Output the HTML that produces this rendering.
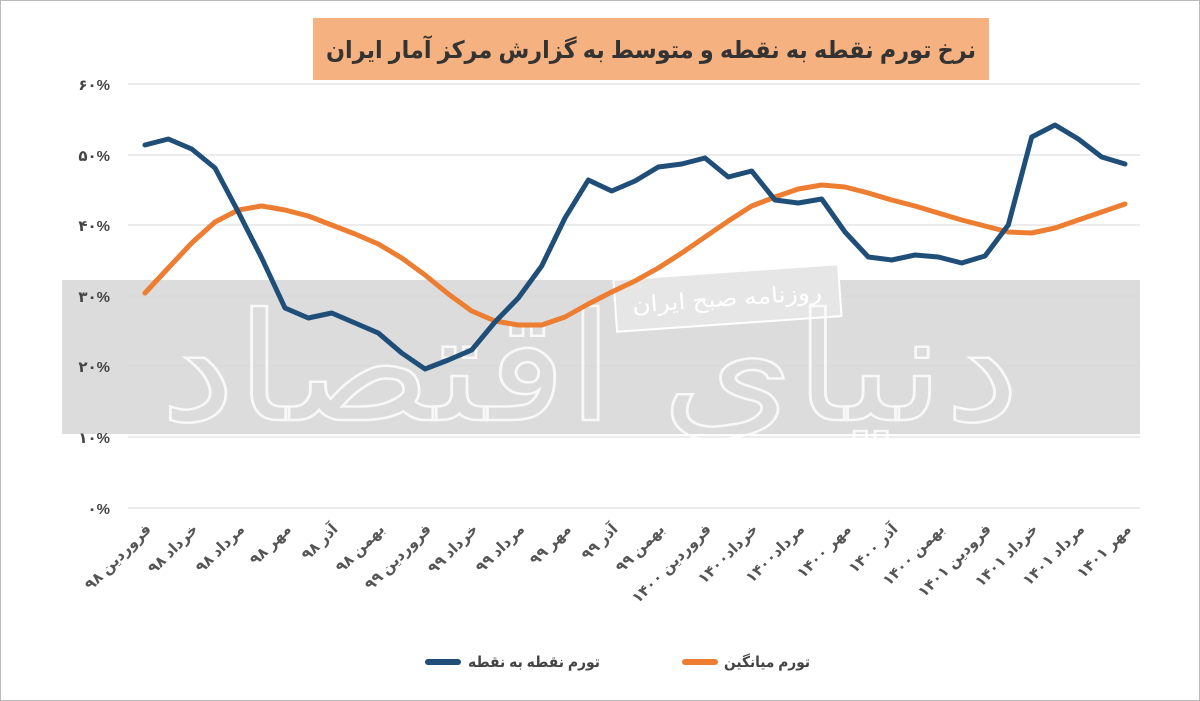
<!DOCTYPE html>
<html><head><meta charset="utf-8"><style>
body{margin:0;background:#fff;width:1200px;height:701px;overflow:hidden}
svg{display:block}
</style></head><body>
<svg width="1200" height="701" viewBox="0 0 1200 701" xmlns="http://www.w3.org/2000/svg" font-family="'Liberation Sans','DejaVu Sans',sans-serif">
<rect x="0.5" y="0.5" width="1199" height="700" fill="#fff" stroke="#bbb"/>
<rect x="313" y="18" width="676" height="62" fill="#f5b17f"/>
<text x="651" y="58" text-anchor="middle" font-size="24" font-weight="bold" fill="#333" textLength="650" lengthAdjust="spacingAndGlyphs">نرخ تورم نقطه به نقطه و متوسط به گزارش مرکز آمار ایران</text>
<rect x="62" y="280" width="1078" height="154" fill="#dcdcdc"/>
<g stroke="#d9d9d9" stroke-width="1">
<line x1="128" y1="84" x2="1140" y2="84"/><line x1="128" y1="155" x2="1140" y2="155"/>
<line x1="128" y1="225" x2="1140" y2="225"/><line x1="128" y1="296" x2="1140" y2="296"/>
<line x1="128" y1="366" x2="1140" y2="366"/><line x1="128" y1="437" x2="1140" y2="437"/>
<line x1="128" y1="508" x2="1140" y2="508"/>
</g>
<g font-size="15" font-weight="bold" fill="#444" text-anchor="end">
<text x="110" y="90">۶۰%</text><text x="110" y="161">۵۰%</text><text x="110" y="231">۴۰%</text>
<text x="110" y="302">۳۰%</text><text x="110" y="372">۲۰%</text><text x="110" y="443">۱۰%</text><text x="110" y="514">۰%</text>
</g>
<g transform="rotate(-4 727 298)">
<rect x="615" y="272" width="225" height="52" fill="#e6e6e6" stroke="#fff" stroke-width="2"/>
<text x="727" y="306" text-anchor="middle" font-size="22" fill="#fff" textLength="190" lengthAdjust="spacingAndGlyphs">روزنامه صبح ایران</text>
</g>
<text x="590" y="420" text-anchor="middle" font-size="150" fill="none" stroke="#fff" stroke-width="2.5" opacity="0.8" textLength="860" lengthAdjust="spacingAndGlyphs">دنیای اقتصاد</text>
<polyline fill="none" stroke="#ed7d31" stroke-width="5" stroke-linejoin="round" stroke-linecap="round" points="145,293 168.3,268 191.7,243 215,222 238.3,210 261.7,206 285,210 308.3,216 331.7,225 355,234 378.3,244 401.7,258 425,275 448.3,294 471.7,311 495,321 518.3,325 541.7,325 565,317 588.3,304 611.7,292 635,281 658.3,268 681.7,253 705,237 728.3,221 751.7,206 775,197 798.3,189 821.7,185 845,187 868.3,193 891.7,200 915,206 938.3,213 961.7,220 985,226 1008.3,232 1031.7,233 1055,228 1078.3,220 1101.7,212 1125,204"/>
<polyline fill="none" stroke="#1f4e79" stroke-width="5" stroke-linejoin="round" stroke-linecap="round" points="145,145 168.3,139 191.7,149 215,168 238.3,212 261.7,258 285,308 308.3,318 331.7,313 355,323 378.3,333 401.7,353 425,369 448.3,360 471.7,350 495,322 518.3,298 541.7,266 565,218 588.3,180 611.7,191 635,181 658.3,167 681.7,164 705,158 728.3,177 751.7,171 775,200 798.3,203 821.7,199 845,232 868.3,257 891.7,260 915,255 938.3,257 961.7,263 985,256 1008.3,225 1031.7,137 1055,125 1078.3,139 1101.7,157 1125,164"/>
<g font-size="15" font-weight="bold" fill="#555" text-anchor="end">
<text transform="translate(152,530) rotate(-45)">فروردین ۹۸</text>
<text transform="translate(198.7,530) rotate(-45)">خرداد ۹۸</text>
<text transform="translate(245.3,530) rotate(-45)">مرداد ۹۸</text>
<text transform="translate(292,530) rotate(-45)">مهر ۹۸</text>
<text transform="translate(338.7,530) rotate(-45)">آذر ۹۸</text>
<text transform="translate(385.3,530) rotate(-45)">بهمن ۹۸</text>
<text transform="translate(432,530) rotate(-45)">فروردین ۹۹</text>
<text transform="translate(478.7,530) rotate(-45)">خرداد ۹۹</text>
<text transform="translate(525.3,530) rotate(-45)">مرداد ۹۹</text>
<text transform="translate(572,530) rotate(-45)">مهر ۹۹</text>
<text transform="translate(618.7,530) rotate(-45)">آذر ۹۹</text>
<text transform="translate(665.3,530) rotate(-45)">بهمن ۹۹</text>
<text transform="translate(712,530) rotate(-45)">فروردین ۱۴۰۰</text>
<text transform="translate(758.7,530) rotate(-45)">خرداد۱۴۰۰</text>
<text transform="translate(805.3,530) rotate(-45)">مرداد۱۴۰۰</text>
<text transform="translate(852,530) rotate(-45)">مهر ۱۴۰۰</text>
<text transform="translate(898.7,530) rotate(-45)">آذر ۱۴۰۰</text>
<text transform="translate(945.3,530) rotate(-45)">بهمن ۱۴۰۰</text>
<text transform="translate(992,530) rotate(-45)">فرودین ۱۴۰۱</text>
<text transform="translate(1038.7,530) rotate(-45)">خرداد ۱۴۰۱</text>
<text transform="translate(1085.3,530) rotate(-45)">مرداد ۱۴۰۱</text>
<text transform="translate(1132,530) rotate(-45)">مهر ۱۴۰۱</text>
</g>
<line x1="428" y1="662" x2="458" y2="662" stroke="#1f4e79" stroke-width="6" stroke-linecap="round"/>
<text x="468" y="667" font-size="15" font-weight="bold" fill="#444" textLength="132" lengthAdjust="spacingAndGlyphs">تورم نقطه به نقطه</text>
<line x1="685" y1="662" x2="715" y2="662" stroke="#ed7d31" stroke-width="6" stroke-linecap="round"/>
<text x="724" y="667" font-size="15" font-weight="bold" fill="#444" textLength="86" lengthAdjust="spacingAndGlyphs">تورم میانگین</text>
</svg>
</body></html>
